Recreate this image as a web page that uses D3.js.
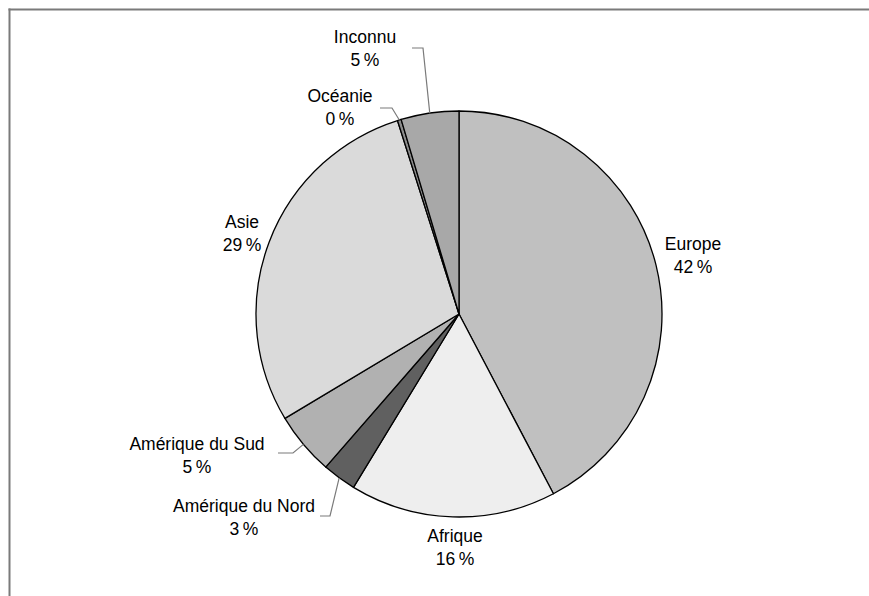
<!DOCTYPE html>
<html><head><meta charset="utf-8">
<script src="https://cdn.jsdelivr.net/npm/d3@7"></script>
<style>html,body{margin:0;padding:0;background:#fff;overflow:hidden;}svg{display:block;}</style>
</head><body>
<svg id="chart" width="869" height="596"></svg>
<script>
// Data
const categories = ["Europe", "Afrique", "Amérique du Nord", "Amérique du Sud", "Asie", "Océanie", "Inconnu"];
const values = [42.3, 16.4, 2.7, 5.0, 28.7, 0.3, 4.6];
const colors = ["#c0c0c0", "#eeeeee", "#606060", "#b1b1b1", "#dadada", "#8c8c8c", "#a8a8a8"];

// Layout (label anchors and leader elbows)
const labelLayout = {
  "Europe": {x: 693, y: 250},
  "Afrique": {x: 455, y: 542},
  "Amérique du Nord": {x: 244, y: 512, elbow: [[320, 516], [330, 516]]},
  "Amérique du Sud": {x: 197, y: 450, elbow: [[278, 453], [293, 453]]},
  "Asie": {x: 242, y: 228},
  "Océanie": {x: 340, y: 102, elbow: [[380, 108], [392, 108]]},
  "Inconnu": {x: 365, y: 43, elbow: [[412, 48], [423, 48]]}
};

const svg = d3.select("#chart");
const cx = 459, cy = 314, R = 203;

// Frame (top and left edges only are visible)
svg.append("line").attr("x1", 8.5).attr("y1", 9.5).attr("x2", 869).attr("y2", 9.5)
  .attr("stroke", "#7a7a7a").attr("stroke-width", 2);
svg.append("line").attr("x1", 9.5).attr("y1", 8.5).attr("x2", 9.5).attr("y2", 596)
  .attr("stroke", "#7a7a7a").attr("stroke-width", 2);

const data = categories.map((c, i) => ({name: c, value: values[i], color: colors[i]}));
const pie = d3.pie().value(d => d.value).sort(null);
const arcs = pie(data);
const arc = d3.arc().innerRadius(0).outerRadius(R);

const g = svg.append("g").attr("transform", `translate(${cx},${cy})`);
g.selectAll("path").data(arcs).join("path")
  .attr("d", arc)
  .attr("fill", d => d.data.color)
  .attr("stroke", "#000")
  .attr("stroke-width", 1.3)
  .attr("stroke-linejoin", "round");

// Leader lines
arcs.forEach(a => {
  const L = labelLayout[a.data.name];
  if (!L.elbow) return;
  const mid = (a.startAngle + a.endAngle) / 2;
  const px = cx + R * Math.sin(mid), py = cy - R * Math.cos(mid);
  const pts = [...L.elbow, [px, py]];
  svg.append("path").attr("d", d3.line()(pts))
    .attr("fill", "none").attr("stroke", "#7a7a7a").attr("stroke-width", 1.2);
});

// Labels
arcs.forEach(a => {
  const L = labelLayout[a.data.name];
  const t = svg.append("text").attr("x", L.x).attr("y", L.y)
    .attr("text-anchor", "middle")
    .attr("font-family", "'Liberation Sans', Arial, sans-serif")
    .attr("font-size", 17.5).attr("fill", "#000");
  t.append("tspan").attr("x", L.x).attr("y", L.y).text(a.data.name);
  t.append("tspan").attr("x", L.x).attr("y", L.y + 22.5).text(Math.round(a.data.value) + "\u2009%");
});
</script>
</body></html>
